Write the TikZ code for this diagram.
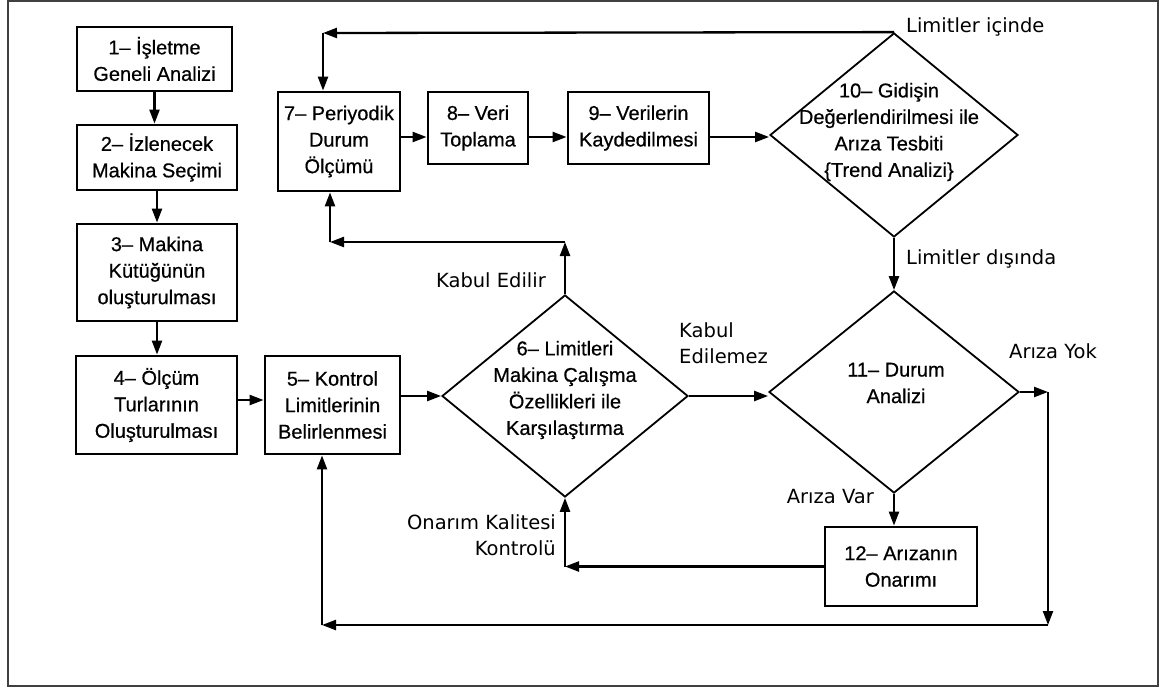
\documentclass[tikz,border=0pt]{standalone}
\usepackage{fontspec}
\setmainfont{Liberation Sans}
\newfontfamily\boxfont{Liberation Sans}[FakeBold=0.6]
\newfontfamily\labelfont{DejaVu Sans}
\usetikzlibrary{arrows.meta,shapes.geometric}

\begin{document}
\begin{tikzpicture}[x=1pt,y=-1pt,
  box/.style={draw,line width=2.8pt,align=center,inner sep=0pt,
    font=\boxfont\fontsize{20}{26.5}\selectfont},
  dia/.style={draw,diamond,line width=1.8pt,inner sep=0pt},
  dtext/.style={align=center,inner sep=0pt,font=\boxfont\fontsize{20}{26.5}\selectfont},
  lab/.style={inner sep=0pt,font=\labelfont\fontsize{19.5}{26.5}\selectfont},
  arr/.style={line width=2.3pt,-{Triangle[length=14pt,width=10pt]}}]

\useasboundingbox (0,0) rectangle (1176,693);
\draw[line width=2pt,black!75] (8,1) rectangle (1158,686);

% process boxes
\node[box,minimum width=155pt,minimum height=64pt] (b1) at (154.5,59) {1– İşletme\\Geneli Analizi};
\node[box,minimum width=160pt,minimum height=65pt] (b2) at (157,157.5) {2– İzlenecek\\Makina Seçimi};
\node[box,minimum width=160pt,minimum height=97pt] (b3) at (157,272.5) {3– Makina\\Kütüğünün\\oluşturulması};
\node[box,minimum width=161pt,minimum height=98pt] (b4) at (156.5,405) {4– Ölçüm\\Turlarının\\Oluşturulması};
\node[box,minimum width=135pt,minimum height=98pt] (b5) at (332.5,405) {5– Kontrol\\Limitlerinin\\Belirlenmesi};
\node[box,minimum width=122pt,minimum height=99pt] (b7) at (339,141.5) {7– Periyodik\\Durum\\Ölçümü};
\node[box,minimum width=100pt,minimum height=72pt] (b8) at (478,128) {8– Veri\\Toplama};
\node[box,minimum width=141pt,minimum height=72pt] (b9) at (638.5,128) {9– Verilerin\\Kaydedilmesi};
\node[box,minimum width=152pt,minimum height=79pt] (b12) at (901,566.5) {12– Arızanın\\Onarımı};

% decision diamonds
\node[dia,minimum width=248pt,minimum height=204pt] (d10) at (894,135) {};
\node[dtext] (t10) at (889,132) {10– Gidişin\\Değerlendirilmesi ile\\Arıza Tesbiti\\\{Trend Analizi\}};
\node[dia,minimum width=246pt,minimum height=202pt] (d6) at (565,396) {};
\node[dtext] (t6) at (565,390) {6– Limitleri\\Makina Çalışma\\Özellikleri ile\\Karşılaştırma};
\node[dia,minimum width=250pt,minimum height=202pt] (d11) at (894,392) {};
\node[dtext] (t11) at (896,383) {11– Durum\\Analizi};

% branch labels
\node[lab,anchor=base west] (l1) at (906,33) {Limitler içinde};
\node[lab,anchor=base west] (l2) at (906,264) {Limitler dışında};
\node[lab,anchor=base east] (l3) at (546,287) {Kabul Edilir};
\node[lab,anchor=north west,align=left] (l4) at (679,322) {Kabul\\Edilemez};
\node[lab,anchor=base west] (l5) at (1009,358) {Arıza Yok};
\node[lab,anchor=base east] (l6) at (874,503) {Arıza Var};
\node[lab,anchor=north east,align=right] (l7) at (556,514) {Onarım Kalitesi\\Kontrolü};

% corner points and rows of the connectors
\coordinate (r1) at (0,137);
\coordinate (r2) at (0,400);
\coordinate (c1) at (323,33);
\coordinate (c2) at (565,242);
\coordinate (c3) at (330,242);
\coordinate (c5) at (1048,625);
\coordinate (c4) at (d11.east -| c5);
\coordinate (c6) at (322,625);
\coordinate (c7) at (d6.south |- b12.west);

% main flow
\draw[arr] (b1.south) -- (b1.south |- b2.north);
\draw[arr] (b2.south) -- (b2.south |- b3.north);
\draw[arr] (b3.south) -- (b3.south |- b4.north);
\draw[arr] (b4.east |- r2) -- (b5.west |- r2);
\draw[arr] (b5.east |- d6.west) -- (d6.west);
\draw[arr] (b7.east |- r1) -- (b8.west |- r1);
\draw[arr] (b8.east |- r1) -- (b9.west |- r1);
\draw[arr] (b9.east |- r1) -- (d10.west |- r1);

% within limits: back to periodic measurement
\draw[arr] (d10.north) -- (c1);
\draw[arr] (c1) -- (c1 |- b7.north);

% accepted: back to periodic measurement
\draw[arr] (d6.north) -- (c2);
\draw[arr] (c2) -- (c3);
\draw[arr] (c3) -- (c3 |- b7.south);

% outside limits / not accepted
\draw[arr] (d10.south) -- (d11.north);
\draw[arr] (d6.east) -- (d6.east -| d11.west);

% no fault: back to control limits
\draw[arr] (d11.east) -- (c4);
\draw[arr] (c4) -- (c5);
\draw[arr] (c5) -- (c6);
\draw[arr] (c6) -- (c6 |- b5.south);

% fault: repair and quality check
\draw[arr] (d11.south) -- (d11.south |- b12.north);
\draw[arr] (b12.west) -- (c7);
\draw[arr] (c7) -- (d6.south);
\end{tikzpicture}
\end{document}
